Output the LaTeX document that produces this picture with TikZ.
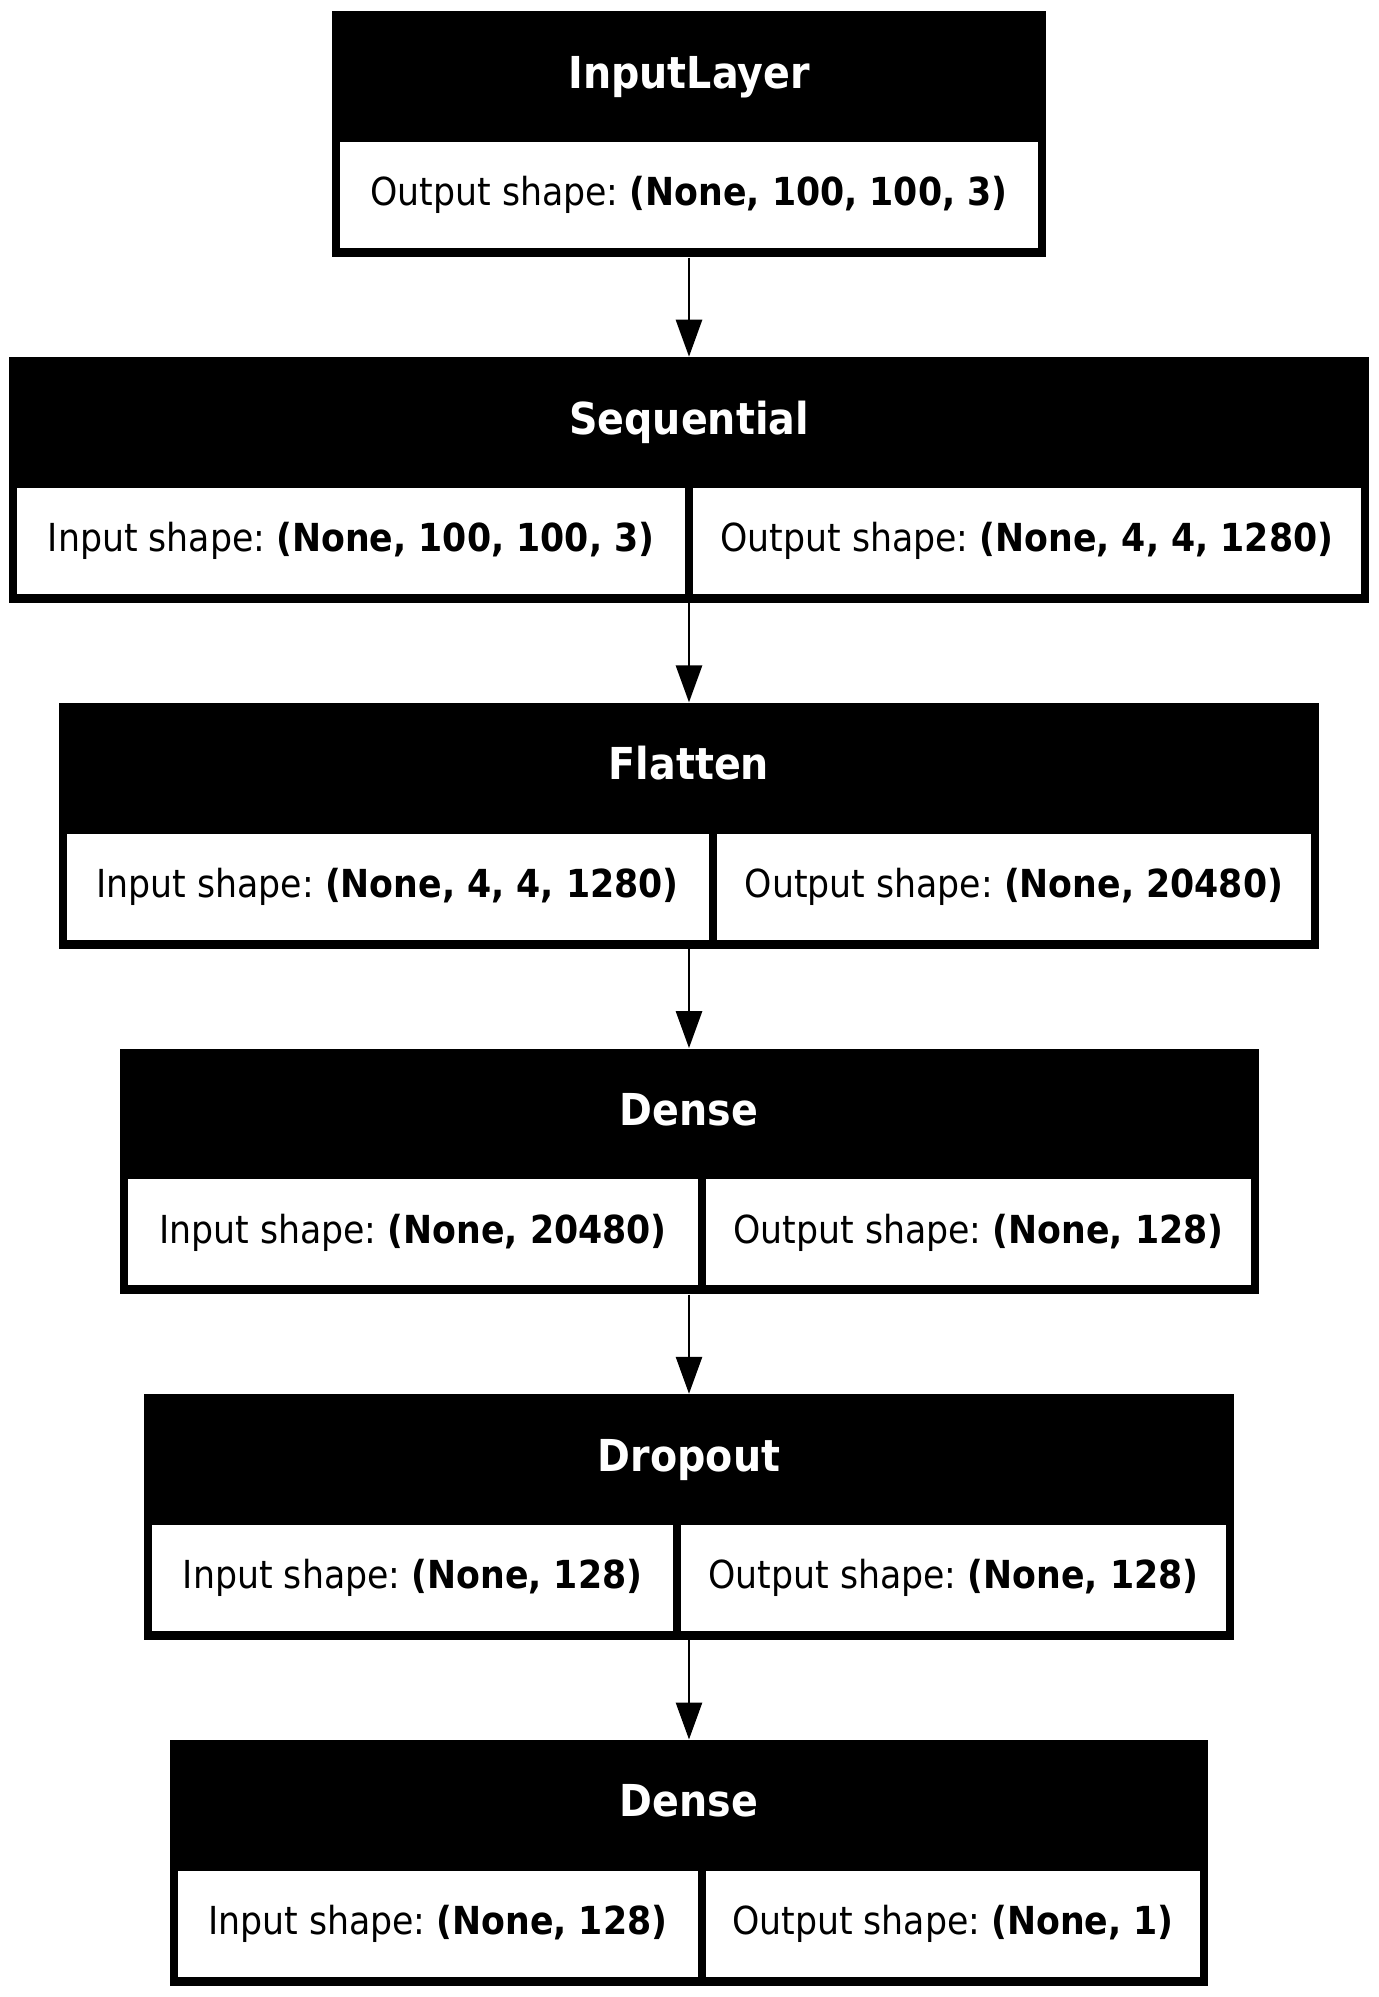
\documentclass[tikz,border=0pt]{standalone}
\usepackage{fontspec}
\setmainfont{DejaVu Sans Condensed}
\usetikzlibrary{arrows.meta}
\frenchspacing

\begin{document}
\begin{tikzpicture}[x=0.5pt,y=-0.5pt,
  layer/.style={fill=black,minimum height=122.85pt,inner sep=0pt,anchor=north},
  head/.style={text=white,font=\fontsize{22}{26}\selectfont\bfseries,anchor=base,inner sep=0pt},
  cell/.style={fill=white,minimum height=53pt,inner sep=0pt,font=\fontsize{19.3}{23}\selectfont},
  flow/.style={line width=1.4pt,-{Triangle[width=13pt,length=18.5pt]}}]
\useasboundingbox (0,0) rectangle (1378,1997);
% layer boxes
\node[layer,minimum width=357pt] (inl) at (689,11) {};
\node[layer,minimum width=679.7pt] (seq) at (689,356.7) {};
\node[layer,minimum width=630.3pt] (flt) at (689,702.4) {};
\node[layer,minimum width=569.5pt] (dns) at (689,1048.1) {};
\node[layer,minimum width=544.8pt] (drp) at (689,1393.8) {};
\node[layer,minimum width=519.3pt] (out) at (689,1739.5) {};
% titles
\node[head] (inl-t) at (689,88.3) {InputLayer};
\node[head] (seq-t) at (689,434) {Sequential};
\node[head] (flt-t) at (689,779.7) {Flatten};
\node[head] (dns-t) at (689,1125.4) {Dense};
\node[head] (drp-t) at (689,1471.1) {Dropout};
\node[head] (out-t) at (689,1816.8) {Dense};
% shape cells
\node[cell,minimum width=349pt] (inl-out) at (689,195.3) {Output shape: \textbf{(None, 100, 100, 3)}};
\node[cell,minimum width=333.85pt] (seq-in) at (351.15,541) {Input shape: \textbf{(None, 100, 100, 3)}};
\node[cell,minimum width=333.85pt] (seq-out) at (1026.85,541) {Output shape: \textbf{(None, 4, 4, 1280)}};
\node[cell,minimum width=320.95pt] (flt-in) at (387.65,886.7) {Input shape: \textbf{(None, 4, 4, 1280)}};
\node[cell,minimum width=297.35pt] (flt-out) at (1013.95,886.7) {Output shape: \textbf{(None, 20480)}};
\node[cell,minimum width=285.45pt] (dns-in) at (412.95,1232.4) {Input shape: \textbf{(None, 20480)}};
\node[cell,minimum width=272.05pt] (dns-out) at (978.45,1232.4) {Output shape: \textbf{(None, 128)}};
\node[cell,minimum width=260.4pt] (drp-in) at (412.6,1578.1) {Input shape: \textbf{(None, 128)}};
\node[cell,minimum width=272.4pt] (drp-out) at (953.4,1578.1) {Output shape: \textbf{(None, 128)}};
\node[cell,minimum width=260pt] (out-in) at (437.75,1923.8) {Input shape: \textbf{(None, 128)}};
\node[cell,minimum width=247.25pt] (out-out) at (953.05,1923.8) {Output shape: \textbf{(None, 1)}};
% arrows
\foreach \a/\b in {inl/seq,seq/flt,flt/dns,dns/drp,drp/out}
  \draw[flow] (\a) -- (\b);
\end{tikzpicture}
\end{document}
